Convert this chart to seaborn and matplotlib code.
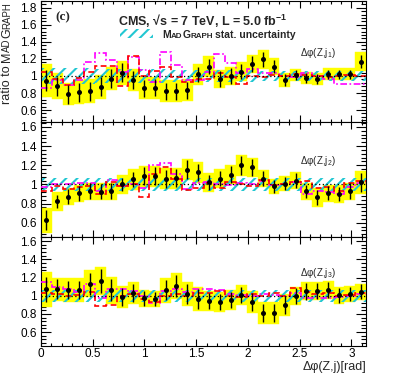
import matplotlib
matplotlib.use('Agg')
import numpy as np
import seaborn as sns
import matplotlib.pyplot as plt
from matplotlib.patches import Rectangle
from matplotlib.ticker import MultipleLocator, StrMethodFormatter

# 30 bins in delta phi(Z, jet), 0..pi
bin_edges = np.linspace(0, np.pi, 31)
bin_centers = 0.5 * (bin_edges[:-1] + bin_edges[1:])

# leading jet
j1_data = [0.945, 0.88, 0.785, 0.81, 0.82, 0.875, 0.97, 1.04, 0.953, 0.855,
           0.86, 0.82, 0.82, 0.835, 1.02, 1.11, 0.965, 1.0, 1.05, 1.14,
           1.195, 1.11, 0.953, 1.008, 0.973, 0.965, 1.02, 1.02, 1.02, 1.17]
j1_stat = [0.125, 0.11, 0.11, 0.11, 0.11, 0.11, 0.115, 0.115, 0.11, 0.1,
           0.1, 0.1, 0.1, 0.1, 0.09, 0.09, 0.09, 0.09, 0.09, 0.09,
           0.09, 0.08, 0.07, 0.06, 0.06, 0.06, 0.055, 0.055, 0.055, 0.08]
j1_tot = [0.19, 0.15, 0.13, 0.14, 0.14, 0.14, 0.14, 0.14, 0.13, 0.13,
          0.13, 0.13, 0.13, 0.13, 0.12, 0.12, 0.11, 0.11, 0.11, 0.11,
          0.11, 0.1, 0.08, 0.07, 0.07, 0.07, 0.07, 0.07, 0.07, 0.11]
j1_sherpa = [0.86, 0.95, 0.89, 0.95, 1.17, 1.27, 1.19, 1.05, 1.22, 1.07,
             0.93, 1.28, 1.13, 0.95, 0.95, 1.05, 1.26, 1.15, 1.04, 1.08,
             1.03, 1.04, 1.0, 0.99, 1.03, 1.0, 0.97, 0.91, 0.91, 0.91]
j1_powheg = [1.05, 0.97, 0.89, 0.98, 1.05, 1.12, 1.12, 0.88, 1.24, 1.0,
             1.06, 1.1, 0.99, 0.93, 0.97, 0.97, 1.03, 0.99, 0.91, 1.0,
             0.99, 1.01, 1.0, 1.02, 1.01, 1.0, 0.99, 1.0, 1.01, 1.0]
j1_mcstat = [0.09, 0.09, 0.09, 0.09, 0.09, 0.085, 0.085, 0.085, 0.08, 0.08,
             0.08, 0.08, 0.075, 0.075, 0.07, 0.07, 0.07, 0.065, 0.065, 0.065,
             0.06, 0.06, 0.06, 0.06, 0.06, 0.06, 0.06, 0.06, 0.06, 0.06]

# second jet
j2_data = [0.628, 0.823, 0.871, 0.906, 0.93, 0.923, 0.93, 1.0, 1.055, 1.087,
           1.087, 1.058, 1.066, 1.152, 1.128, 1.021, 1.062, 1.10, 1.20, 1.177,
           1.062, 0.979, 1.007, 1.038, 0.927, 0.865, 0.909, 0.899, 0.93, 1.024]
j2_stat = [0.1, 0.07, 0.08, 0.08, 0.08, 0.08, 0.08, 0.07, 0.08, 0.09,
           0.09, 0.09, 0.09, 0.1, 0.09, 0.08, 0.08, 0.09, 0.1, 0.09,
           0.08, 0.07, 0.07, 0.08, 0.07, 0.08, 0.07, 0.07, 0.08, 0.1]
j2_tot = [0.13, 0.1, 0.09, 0.09, 0.09, 0.09, 0.09, 0.1, 0.11, 0.11,
          0.11, 0.11, 0.11, 0.11, 0.11, 0.1, 0.1, 0.1, 0.11, 0.1,
          0.09, 0.08, 0.08, 0.09, 0.09, 0.1, 0.09, 0.09, 0.09, 0.12]
j2_sherpa = [0.97, 1.0, 1.0, 1.01, 1.02, 0.93, 1.05, 0.98, 1.0, 0.96,
             1.2, 1.22, 1.11, 0.95, 1.02, 1.03, 1.0, 0.99, 1.02, 1.0,
             1.04, 0.99, 1.0, 1.03, 0.9, 0.93, 0.92, 0.9, 0.97, 1.02]
j2_powheg = [0.93, 0.98, 0.95, 0.97, 0.98, 0.9, 1.03, 0.98, 1.0, 0.87,
             1.11, 1.18, 1.06, 0.94, 0.96, 1.02, 0.96, 1.03, 1.0, 0.98,
             1.05, 0.99, 1.0, 1.03, 1.04, 0.96, 0.97, 0.93, 1.02, 1.04]
j2_mcstat = [0.07, 0.07, 0.065, 0.065, 0.065, 0.065, 0.065, 0.065, 0.065, 0.065,
             0.065, 0.065, 0.065, 0.065, 0.065, 0.065, 0.065, 0.065, 0.065, 0.065,
             0.065, 0.065, 0.065, 0.065, 0.065, 0.065, 0.065, 0.065, 0.065, 0.07]

# third jet
j3_data = [1.07, 1.07, 1.063, 1.063, 1.132, 1.161, 1.059, 0.986, 1.03, 0.971,
           0.964, 1.059, 1.107, 1.022, 0.967, 0.942, 0.931, 0.953, 1.011, 0.931,
           0.813, 0.813, 0.901, 0.997, 1.048, 1.055, 1.063, 1.004, 1.019, 1.044]
j3_stat = [0.14, 0.11, 0.1, 0.1, 0.12, 0.13, 0.12, 0.1, 0.1, 0.08,
           0.08, 0.11, 0.12, 0.11, 0.11, 0.09, 0.09, 0.09, 0.09, 0.1,
           0.1, 0.1, 0.1, 0.09, 0.09, 0.09, 0.09, 0.08, 0.08, 0.08]
j3_tot = [0.19, 0.13, 0.13, 0.13, 0.15, 0.155, 0.15, 0.12, 0.12, 0.09,
          0.09, 0.14, 0.14, 0.13, 0.13, 0.11, 0.11, 0.11, 0.11, 0.12,
          0.12, 0.12, 0.12, 0.1, 0.1, 0.1, 0.1, 0.09, 0.09, 0.09]
j3_sherpa = [1.15, 1.1, 1.07, 1.04, 1.13, 0.97, 1.07, 1.07, 1.05, 1.0,
             0.92, 1.05, 1.07, 1.04, 1.07, 1.07, 1.06, 1.02, 1.01, 1.0,
             1.02, 1.01, 1.0, 1.03, 0.98, 0.97, 0.97, 0.99, 1.0, 1.02]
j3_powheg = [1.03, 1.02, 1.0, 1.01, 1.04, 0.89, 0.9, 1.0, 1.02, 0.96,
             0.93, 1.0, 1.02, 1.0, 1.03, 1.03, 1.05, 1.0, 0.99, 1.02,
             1.0, 1.03, 1.0, 1.09, 1.04, 1.02, 1.03, 1.0, 1.01, 1.03]
j3_mcstat = [0.065, 0.065, 0.065, 0.065, 0.065, 0.065, 0.065, 0.065, 0.065, 0.065,
             0.065, 0.065, 0.065, 0.065, 0.065, 0.065, 0.065, 0.065, 0.065, 0.065,
             0.065, 0.065, 0.065, 0.065, 0.065, 0.065, 0.065, 0.065, 0.065, 0.065]

panel_labels = ['\u0394\u03c6(Z,j$_1$)', '\u0394\u03c6(Z,j$_2$)', '\u0394\u03c6(Z,j$_3$)']

sns.set_style('ticks')
plt.rcParams['font.family'] = ['Liberation Sans', 'DejaVu Sans']
plt.rcParams['mathtext.fontset'] = 'custom'
plt.rcParams['mathtext.default'] = 'regular'
plt.rcParams['hatch.linewidth'] = 1.5

YELLOW = '#ffff00'
CYAN = '#22c7d2'
MAGENTA = '#ff00ff'
RED = '#ff0000'
HATCH = '///'

W, H = 407, 383
fig = plt.figure(figsize=(W / 100, H / 100), dpi=100)


def fx(px):
    return px / W


def fy(py):
    return 1 - py / H


# pixel boxes (left, top, right, bottom) and y ranges of the three pads
pads = [(41, 1, 366, 122), (41, 122, 366, 237.3), (41, 237.3, 366, 346)]
ylims = [(0.46, 1.88), (0.448, 1.652), (0.447, 1.642)]
label_y = [56, 163.5, 276]
series = [
    (j1_data, j1_stat, j1_tot, j1_sherpa, j1_powheg, j1_mcstat),
    (j2_data, j2_stat, j2_tot, j2_sherpa, j2_powheg, j2_mcstat),
    (j3_data, j3_stat, j3_tot, j3_sherpa, j3_powheg, j3_mcstat),
]
bw = bin_edges[1] - bin_edges[0]

for i, (l, t, r, b) in enumerate(pads):
    ax = fig.add_axes([fx(l), fy(b), (r - l) / W, (b - t) / H])
    data, stat, tot, sherpa, powheg, mcstat = [np.array(a) for a in series[i]]

    # total uncertainty boxes
    ax.bar(bin_centers, 2 * tot, bottom=data - tot, width=bw, color=YELLOW,
           edgecolor=YELLOW, linewidth=0.3, zorder=1)
    # MadGraph stat. uncertainty
    ax.stairs(1 + mcstat, bin_edges, baseline=1 - mcstat, fill=True,
              facecolor='none', edgecolor=CYAN, hatch=HATCH, linewidth=0, zorder=2)
    ax.stairs(sherpa, bin_edges, baseline=None, color=MAGENTA, linewidth=1.2,
              linestyle=(0, (4, 1.5, 1, 1.5)), zorder=3)
    ax.stairs(powheg, bin_edges, baseline=None, color=RED, linewidth=1.2,
              linestyle=(0, (3.5, 2)), zorder=3)
    ax.axhline(1, color='black', linestyle=(0, (1, 2)), linewidth=0.9, zorder=3.5)
    ax.errorbar(bin_centers, data, yerr=stat, fmt='none', ecolor='black',
                elinewidth=1.0, capsize=0, zorder=4)
    sns.scatterplot(x=bin_centers, y=data, color='black', s=13, edgecolor='black',
                    linewidth=0, zorder=5, ax=ax)

    ax.set_xlim(0, np.pi)
    ax.set_ylim(*ylims[i])
    ax.xaxis.set_major_locator(MultipleLocator(0.5))
    ax.xaxis.set_minor_locator(MultipleLocator(0.1))
    ax.yaxis.set_major_locator(MultipleLocator(0.2))
    ax.yaxis.set_minor_locator(MultipleLocator(0.04))
    ax.yaxis.set_major_formatter(StrMethodFormatter('{x:g}'))
    ax.xaxis.set_major_formatter(StrMethodFormatter('{x:g}'))
    ax.tick_params(which='both', direction='in', top=True, right=True,
                   color='black', labelsize=8.5, labelcolor='black', width=0.8)
    ax.tick_params(axis='y', which='major', length=7.5, pad=3)
    ax.tick_params(axis='y', which='minor', length=3.8)
    ax.tick_params(axis='x', which='major', length=5, pad=1.5)
    ax.tick_params(axis='x', which='minor', length=2.5)
    if i < 2:
        ax.tick_params(axis='x', labelbottom=False)
    for sp in ax.spines.values():
        sp.set_color('black')
        sp.set_linewidth(0.8)
    ax.set_xlabel('')
    ax.set_ylabel('')

    fig.text(fx(300), fy(label_y[i]), panel_labels[i], fontsize=7,
             ha='left', va='baseline')

renderer = fig.canvas.get_renderer()


def piece_text(x, y, parts, rotation=0, align='left', **kw):
    """Draw text pieces (text, size, gap_px) one after another along a baseline."""
    widths = []
    for s, size, gap in parts:
        tmp = fig.text(0, 0, s, fontsize=size, **kw)
        widths.append(tmp.get_window_extent(renderer).width + gap)
        tmp.remove()
    pos = -sum(widths) if align == 'right' else 0
    ang = np.deg2rad(rotation)
    for (s, size, gap), w in zip(parts, widths):
        fig.text(fx(x + pos * np.cos(ang)), fy(y - pos * np.sin(ang)), s,
                 fontsize=size, rotation=rotation, rotation_mode='anchor',
                 ha='left', va='baseline', **kw)
        pos += w


# y title, small caps MadGraph
piece_text(10, 2, [('ratio to', 9, 2.5), ('M', 9, 0), ('AD', 7, 0),
                   ('G', 9, 0), ('RAPH', 7, 0)], rotation=90, align='right')

# header
fig.text(fx(55), fy(20.5), '(c)', fontsize=9.5, family='Liberation Serif',
         weight='bold', ha='left', va='baseline')
fig.text(fx(118), fy(26.5), 'CMS, \u221as = 7 TeV, L = 5.0 fb$^{-1}$', fontsize=9,
         weight='bold', ha='left', va='baseline')

# legend entry
fig.patches.append(Rectangle((fx(120), fy(38)), 33 / W, 9 / H, transform=fig.transFigure,
                             facecolor='none', edgecolor=CYAN, hatch=HATCH, linewidth=0))
piece_text(162, 38, [('M', 7.5, 0), ('AD', 5.8, 0), ('G', 7.5, 0), ('RAPH', 5.8, 2),
                     ('stat. uncertainty', 7.5, 0)], weight='bold')

# x title
fig.text(fx(366), fy(370), '\u0394\u03c6(Z,j)[rad]', fontsize=9, ha='right', va='baseline')

fig.savefig('out.png', dpi=100)
